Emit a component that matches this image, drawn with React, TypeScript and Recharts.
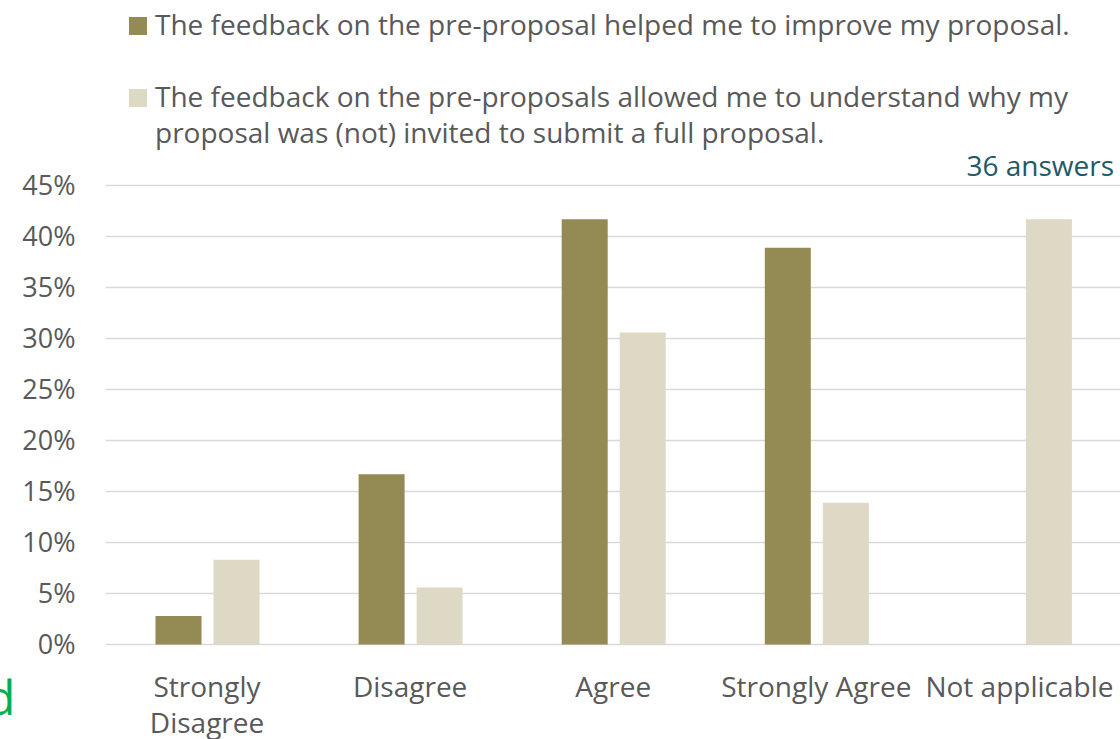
import React from 'react';
import { BarChart, Bar, XAxis, YAxis, CartesianGrid } from 'recharts';

const categories = ['Strongly Disagree', 'Disagree', 'Agree', 'Strongly Agree', 'Not applicable'];
const tickLines = [['Strongly', 'Disagree'], ['Disagree'], ['Agree'], ['Strongly Agree'], ['Not applicable']];
const helpedImprove = [2.8, 16.7, 41.7, 38.9, 0];
const understoodWhy = [8.3, 5.6, 30.6, 13.9, 41.7];
const yTicks = [0, 5, 10, 15, 20, 25, 30, 35, 40, 45];
const seriesNames = [
  'The feedback on the pre-proposal helped me to improve my proposal.',
  'The feedback on the pre-proposals allowed me to understand why my proposal was (not) invited to submit a full proposal.',
];

const data = categories.map((c, i) => ({
  category: c,
  improve: helpedImprove[i],
  understand: understoodWhy[i],
}));

const FONT = '"Open Sans", sans-serif';
const GREY = '#595959';
const DARK = '#948A54';
const LIGHT = '#DDD9C4';
const seriesColors = [DARK, LIGHT];

const XTick = (props: any) => {
  const { x, y, index } = props;
  const lines = tickLines[index] || [props.payload.value];
  return (
    <g>
      {lines.map((l: string, i: number) => (
        <text key={l} x={x} y={y + 44 + i * 36} textAnchor="middle" fill={GREY} fontSize={28} fontFamily={FONT}>
          {l}
        </text>
      ))}
    </g>
  );
};

const LegendBox = () => {
  const tops = [5.6, 78];
  return (
    <>
      {seriesNames.map((name, i) => (
        <div key={name} style={{ position: 'absolute', left: 129, top: tops[i], width: 960, display: 'flex' }}>
          <span style={{ width: 18, height: 18, background: seriesColors[i], marginTop: 11, flex: 'none' }} />
          <span style={{ marginLeft: 8, width: 925, color: GREY, fontFamily: FONT, fontSize: 28, lineHeight: '36px' }}>{name}</span>
        </div>
      ))}
    </>
  );
};

export default function App() {
  return (
    <div style={{ position: 'absolute', left: 0, top: 0, width: 1120, height: 739, overflow: 'hidden', background: '#fff' }}>
      <BarChart
        width={1121}
        height={739}
        data={data}
        margin={{ top: 185.5, right: 0, bottom: 0, left: 0 }}
        barSize={46}
        barGap={12}
      >
        <CartesianGrid vertical={false} stroke="#D9D9D9" strokeWidth={1.5} />
        <XAxis dataKey="category" axisLine={false} tickLine={false} height={94.5} tick={<XTick />} interval={0} />
        <YAxis
          width={105.5}
          domain={[0, 45]}
          ticks={yTicks}
          interval={0}
          axisLine={false}
          tickLine={false}
          tickSize={0}
          tickMargin={30}
          tickFormatter={(v: number) => `${v}%`}
          tick={{ fill: GREY, fontSize: 27, fontFamily: FONT }}
        />
        <Bar dataKey="improve" name={seriesNames[0]} fill={DARK} isAnimationActive={false} />
        <Bar dataKey="understand" name={seriesNames[1]} fill={LIGHT} isAnimationActive={false} />
      </BarChart>
      <LegendBox />
      <div style={{ position: 'absolute', right: 6, top: 147, color: '#215968', fontFamily: FONT, fontSize: 28, lineHeight: '36px' }}>
        36 answers
      </div>
      <div style={{ position: 'absolute', left: -14, top: 673, color: '#00B050', fontFamily: FONT, fontSize: 48, lineHeight: '48px' }}>d</div>
    </div>
  );
}
